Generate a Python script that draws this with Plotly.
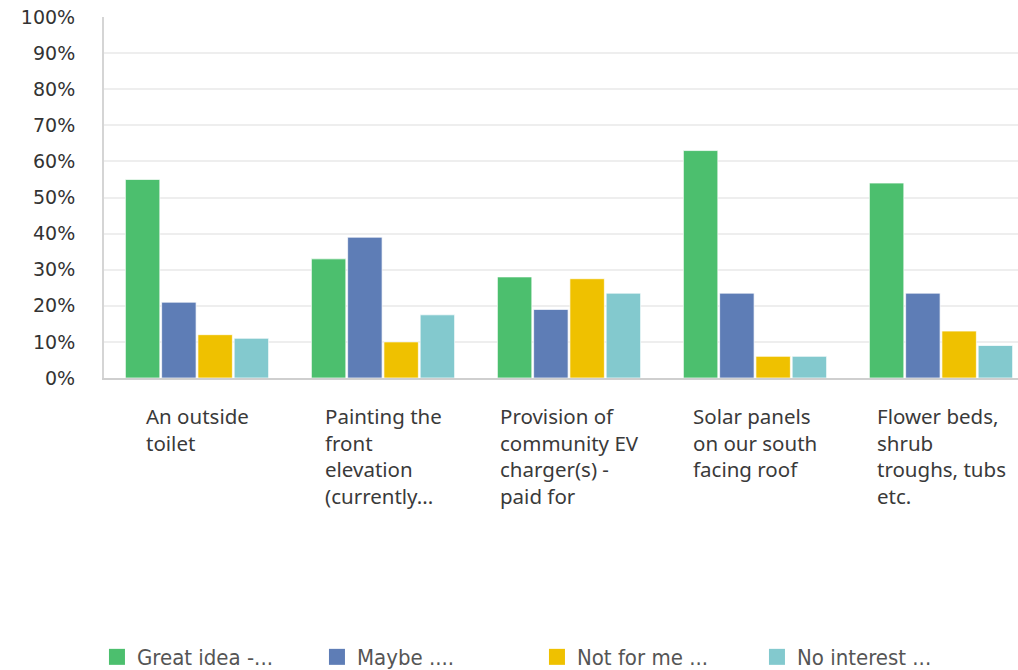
import plotly.graph_objects as go

# survey answers (percent of respondents)
categories = [
    "An outside<br>toilet",
    "Painting the<br>front<br>elevation<br>(currently...",
    "Provision of<br>community EV<br>charger(s) -<br>paid for",
    "Solar panels<br>on our south<br>facing roof",
    "Flower beds,<br>shrub<br>troughs, tubs<br>etc.",
]
great_idea = [55, 33, 28, 63, 54]
maybe = [21, 39, 19, 23.5, 23.5]
not_for_me = [12, 10, 27.5, 6, 13]
no_interest = [11, 17.5, 23.5, 6, 9]

series_names = ["Great idea -...", "Maybe ....", "Not for me ...", "No interest ..."]
series_values = [great_idea, maybe, not_for_me, no_interest]
colors = ["#4cbf6e", "#5e7db6", "#efc100", "#83c9ce"]

y_ticks = list(range(0, 101, 10))
y_tick_text = [f"{v}%" for v in y_ticks]

x_pos = list(range(len(categories)))

fig = go.Figure()

for name, vals, col in zip(series_names, series_values, colors):
    fig.add_trace(go.Bar(
        x=x_pos, y=vals, name=name,
        marker=dict(color=col, line=dict(color="rgba(255,255,255,0.7)", width=1)),
        showlegend=False,
    ))
    # legend-only marker for a bigger swatch
    fig.add_trace(go.Scatter(
        x=[None], y=[None], mode="markers", name=name,
        marker=dict(symbol="square", size=28, color=col,
                    line=dict(color=col, width=0)),
    ))

# category labels: centred blocks, left-aligned text
for i, label in enumerate(categories):
    fig.add_annotation(
        x=i, y=0, xref="x", yref="y", text=label, showarrow=False,
        xanchor="center", yanchor="top", align="left", yshift=-22,
        font=dict(family="Noto Sans", size=20.5, color="#3a3a3a"),
    )

fig.update_layout(
    width=1018, height=670,
    margin=dict(l=104, r=0, t=17, b=292, autoexpand=False),
    plot_bgcolor="white", paper_bgcolor="white",
    barmode="group", bargap=0.22, bargroupgap=0.05,
    showlegend=True,
    legend=dict(
        orientation="h", x=-0.0077, y=-0.773, xanchor="left", yanchor="middle",
        entrywidth=175, itemsizing="trace",
        font=dict(family="Liberation Sans Narrow, DejaVu Sans Condensed", size=22, color="#555"),
    ),
)
fig.update_xaxes(
    range=[-0.5, 4.414], showticklabels=False, showgrid=False,
    showline=True, linecolor="#cfcfcf", linewidth=2, zeroline=False,
    automargin=False,
)
fig.update_yaxes(
    range=[0, 100], tickvals=y_ticks, ticktext=y_tick_text,
    showgrid=True, gridcolor="#eeeeee", gridwidth=2,
    showline=True, linecolor="#d5d5d5", linewidth=2, zeroline=False,
    ticklabelstandoff=23, automargin=False, ticklabeloverflow="allow",
    tickfont=dict(family="DejaVu Sans", size=19, color="#333"),
)

# drop the default 8px body margin so the figure fills the window exactly
fig.write_html("out.html", config={"displayModeBar": False},
               post_script="document.body.style.margin='0';")
